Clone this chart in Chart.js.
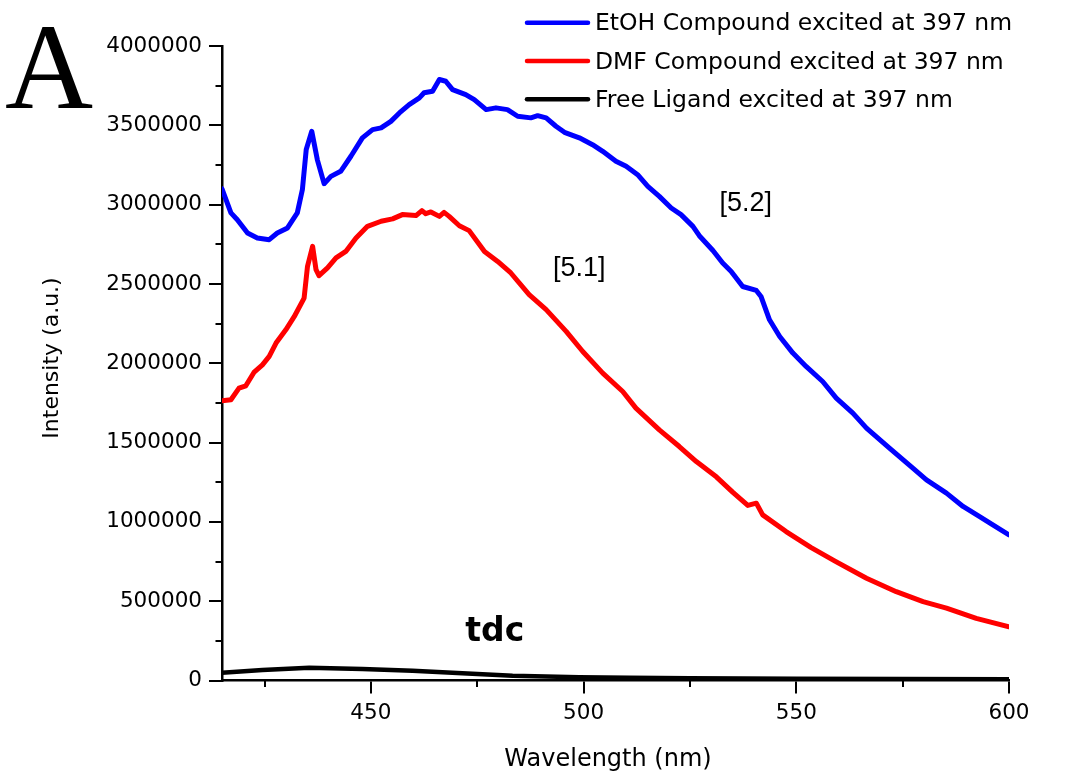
<!DOCTYPE html>
<html>
<head>
<meta charset="utf-8">
<script src="https://cdn.jsdelivr.net/npm/chart.js@4.4.1/dist/chart.umd.min.js"></script>
<style>
html,body{margin:0;padding:0;background:#fff;}
#wrap{width:1076px;height:777px;position:relative;}
</style>
</head>
<body>
<div id="wrap"><canvas id="c" width="1076" height="777"></canvas></div>
<script>
// ---- data (wavelength nm / intensity a.u.) ----
const blueWl = [415, 417.1, 418.6, 421.0, 423.3, 426.1, 428.0, 430.4, 432.7, 433.9, 434.8, 436.1, 437.4, 439.0, 440.6, 442.9, 445.3, 448.0, 450.4, 452.4, 454.7, 456.7, 459.0, 461.4, 462.5, 464.5, 466.1, 467.6, 469.2, 472.3, 474.3, 477.1, 479.4, 482.1, 484.5, 487.6, 489.2, 491.2, 493.5, 495.5, 499.0, 502.1, 504.5, 507.6, 510.0, 512.7, 515.1, 517.8, 520.6, 522.9, 525.7, 527.2, 530.4, 532.7, 534.7, 537.4, 540.6, 541.7, 543.7, 546.1, 549.2, 552.3, 556.2, 559.4, 563.3, 566.5, 571.9, 577.4, 580.6, 585.3, 589.2, 593.1, 596.2, 600];
const blueInt = [3100000, 2948000, 2905000, 2821000, 2790000, 2779000, 2821000, 2853000, 2948000, 3095000, 3347000, 3462000, 3284000, 3132000, 3178000, 3210000, 3305000, 3421000, 3473000, 3484000, 3525000, 3578000, 3631000, 3673000, 3705000, 3715000, 3789000, 3778000, 3725000, 3694000, 3662000, 3599000, 3610000, 3599000, 3557000, 3547000, 3561000, 3547000, 3494000, 3456000, 3421000, 3378000, 3336000, 3273000, 3242000, 3189000, 3115000, 3052000, 2979000, 2937000, 2863000, 2804000, 2711000, 2632000, 2579000, 2484000, 2459000, 2421000, 2274000, 2169000, 2064000, 1980000, 1885000, 1780000, 1686000, 1591000, 1465000, 1339000, 1265000, 1181000, 1097000, 1033000, 981000, 918000];

const redWl = [415, 417.1, 419.0, 420.6, 422.5, 424.5, 426.1, 427.7, 430.0, 432.0, 434.3, 435.1, 436.3, 437.1, 437.8, 439.8, 441.8, 444.1, 446.5, 449.2, 452.4, 455.1, 457.4, 460.6, 462.0, 462.9, 464.1, 466.1, 467.2, 468.4, 470.8, 473.1, 476.7, 479.8, 482.9, 487.2, 491.2, 495.9, 499.8, 504.5, 509.2, 512.3, 517.8, 522.5, 526.5, 531.2, 535.1, 538.6, 540.6, 542.1, 547.6, 553.4, 559.2, 566.5, 573.5, 579.8, 585.3, 592.3, 600];
const redInt = [1763000, 1770000, 1843000, 1858000, 1942000, 1990000, 2043000, 2127000, 2211000, 2295000, 2411000, 2611000, 2737000, 2590000, 2552000, 2601000, 2664000, 2705000, 2790000, 2863000, 2895000, 2910000, 2937000, 2931000, 2962000, 2943000, 2954000, 2926000, 2951000, 2926000, 2867000, 2836000, 2705000, 2642000, 2569000, 2432000, 2338000, 2201000, 2074000, 1938000, 1822000, 1717000, 1580000, 1475000, 1380000, 1284000, 1186000, 1104000, 1118000, 1044000, 939000, 839000, 751000, 645000, 560000, 497000, 456000, 392000, 339000];

const ligandWl = [415, 424.5, 435.5, 448.0, 459.8, 471.5, 483.3, 499.0, 510.8, 525, 550, 575, 600];
const ligandInt = [49000, 66000, 81000, 73000, 62000, 45000, 30000, 20000, 18000, 14000, 11000, 9000, 8000];

const seriesLabels = ['EtOH Compound excited at 397 nm', 'DMF Compound excited at 397 nm', 'Free Ligand excited at 397 nm'];
const seriesColors = ['#0000ff', '#ff0000', '#000000'];

const xMajorTicks = [450, 500, 550, 600];
const xMinorTicks = [425, 475, 525, 575];
const yMajorTicks = [0, 500000, 1000000, 1500000, 2000000, 2500000, 3000000, 3500000, 4000000];
const yMinorTicks = [250000, 750000, 1250000, 1750000, 2250000, 2750000, 3250000, 3750000];

const xTitle = 'Wavelength (nm)';
const yTitle = 'Intensity (a.u.)';
const panelLetter = 'A';
const annotations = [
  {text: '[5.2]', x: 538.1, y: 2962000, font: '27px "Liberation Sans"', align: 'center'},
  {text: '[5.1]', x: 499.0, y: 2552000, font: '27px "Liberation Sans"', align: 'center'},
  {text: 'tdc', x: 472.2, y: 249000, font: 'bold 33px "DejaVu Sans"', align: 'left'}
];

const toPts = (xs, ys) => xs.map((x, i) => ({x: x, y: ys[i]}));

const minorTickPlugin = {
  id: 'minorTicks',
  afterDatasetsDraw(chart) {
    const c = chart.ctx, xs = chart.scales.x, ys = chart.scales.y, a = chart.chartArea;
    c.save();
    c.strokeStyle = '#000';
    c.lineWidth = 2;
    xMinorTicks.forEach(v => {
      const px = Math.round(xs.getPixelForValue(v));
      c.beginPath(); c.moveTo(px, a.bottom); c.lineTo(px, a.bottom + 6.5); c.stroke();
    });
    yMinorTicks.forEach(v => {
      const py = Math.round(ys.getPixelForValue(v));
      c.beginPath(); c.moveTo(a.left, py); c.lineTo(a.left - 6.5, py); c.stroke();
    });
    c.restore();
  }
};

const textPlugin = {
  id: 'texts',
  afterDraw(chart) {
    const c = chart.ctx, xs = chart.scales.x, ys = chart.scales.y;
    c.save();
    c.fillStyle = '#000';
    // panel letter
    c.font = '122px "Liberation Serif"';
    c.textAlign = 'left'; c.textBaseline = 'alphabetic';
    c.fillText(panelLetter, 5, 108);
    // legend
    c.font = '23.5px "DejaVu Sans"';
    seriesLabels.forEach((lab, i) => {
      const ly = 22.7 + i * 38.3;
      c.strokeStyle = seriesColors[i];
      c.lineWidth = 4.5;
      c.lineCap = 'round';
      c.beginPath(); c.moveTo(527, ly); c.lineTo(588, ly); c.stroke();
      c.fillStyle = '#000';
      c.fillText(lab, 595, ly + 7.5);
    });
    // annotations
    annotations.forEach(an => {
      c.font = an.font;
      c.textAlign = an.align;
      c.fillText(an.text, xs.getPixelForValue(an.x), ys.getPixelForValue(an.y));
    });
    // axis titles
    c.font = '24px "DejaVu Sans"';
    c.textAlign = 'center'; c.textBaseline = 'middle';
    c.fillText(xTitle, 608, 760);
    c.save();
    c.translate(52, 358);
    c.rotate(-Math.PI / 2);
    c.font = '22px "DejaVu Sans"';
    c.fillText(yTitle, 0, 0);
    c.restore();
    c.restore();
  }
};

new Chart(document.getElementById('c'), {
  type: 'line',
  data: {
    datasets: [
      {label: seriesLabels[0], data: toPts(blueWl, blueInt), borderColor: seriesColors[0], borderWidth: 5},
      {label: seriesLabels[1], data: toPts(redWl, redInt), borderColor: seriesColors[1], borderWidth: 5},
      {label: seriesLabels[2], data: toPts(ligandWl, ligandInt), borderColor: seriesColors[2], borderWidth: 4.5}
    ]
  },
  options: {
    responsive: false,
    animation: false,
    devicePixelRatio: 1,
    layout: {padding: {top: 46, right: 67, left: 0, bottom: 0}},
    elements: {
      line: {tension: 0, fill: false, borderJoinStyle: 'round', borderCapStyle: 'round'},
      point: {radius: 0, hoverRadius: 0}
    },
    plugins: {legend: {display: false}, tooltip: {enabled: false}},
    scales: {
      x: {
        type: 'linear', min: 415, max: 600,
        afterBuildTicks: s => { s.ticks = xMajorTicks.map(v => ({value: v})); },
        afterFit: s => { s.height = 96.5; },
        grid: {display: true, drawOnChartArea: false, drawTicks: true, tickLength: 13, color: '#000', lineWidth: 2},
        border: {display: true, color: '#000', width: 2.5},
        ticks: {font: {family: 'DejaVu Sans', size: 21.5}, color: '#000', padding: 7, maxRotation: 0, autoSkip: false, callback: v => String(v)}
      },
      y: {
        type: 'linear', min: 0, max: 4000000,
        afterBuildTicks: s => { s.ticks = yMajorTicks.map(v => ({value: v})); },
        afterFit: s => { s.width = 222; },
        grid: {display: true, drawOnChartArea: false, drawTicks: true, tickLength: 13, color: '#000', lineWidth: 2},
        border: {display: true, color: '#000', width: 2.5},
        ticks: {font: {family: 'DejaVu Sans', size: 21.5}, color: '#000', padding: 7, autoSkip: false, callback: v => String(v)}
      }
    }
  },
  plugins: [minorTickPlugin, textPlugin]
});
</script>
</body>
</html>
